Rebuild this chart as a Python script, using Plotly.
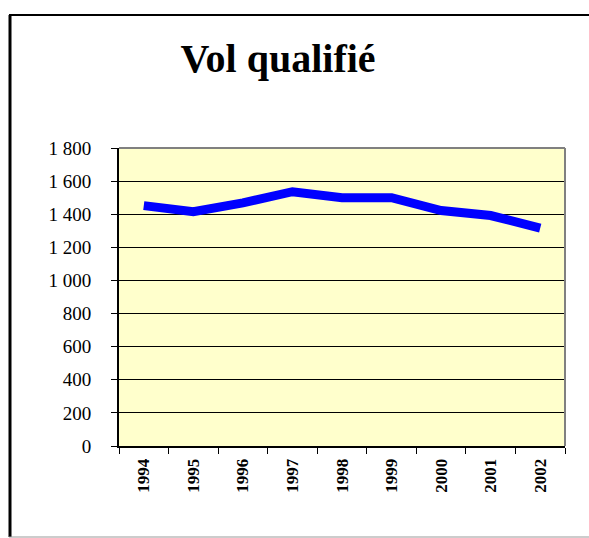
import plotly.graph_objects as go

years = ["1994", "1995", "1996", "1997", "1998", "1999", "2000", "2001", "2002"]
values = [1452, 1415, 1468, 1536, 1500, 1500, 1422, 1392, 1316]
ytick_vals = [0, 200, 400, 600, 800, 1000, 1200, 1400, 1600, 1800]
ytick_text = ["0", "200", "400", "600", "800", "1 000", "1 200", "1 400", "1 600", "1 800"]
title_text = "Vol qualifié"

W, H = 589, 538
L, R, T, B = 119, 565, 148, 446

fig = go.Figure()
fig.add_trace(go.Scatter(
    x=years, y=values, mode="lines",
    line=dict(color="#0000FF", width=9),
    hoverinfo="skip", showlegend=False,
))

def px(x):
    return (x - L) / (R - L)

def py(y):
    return (B - y) / (B - T)

shapes = [
    # outer frame
    dict(type="line", xref="paper", yref="paper", x0=px(10), x1=px(10), y0=py(15), y1=py(537),
         line=dict(color="black", width=3)),
    dict(type="line", xref="paper", yref="paper", x0=px(9), x1=px(600), y0=py(15), y1=py(15),
         line=dict(color="black", width=2)),
    dict(type="line", xref="paper", yref="paper", x0=px(9), x1=px(600), y0=py(537), y1=py(537),
         line=dict(color="#999999", width=1)),
    # plot area top/right gray border
    dict(type="line", xref="paper", yref="paper", x0=0, x1=1, y0=1, y1=1,
         line=dict(color="#808080", width=2)),
    dict(type="line", xref="paper", yref="paper", x0=1, x1=1, y0=0, y1=1,
         line=dict(color="#808080", width=2)),
]

fig.update_layout(
    width=W, height=H,
    margin=dict(l=L, r=W - R, t=T, b=H - B, pad=0),
    paper_bgcolor="white",
    plot_bgcolor="#FFFFCC",
    title=dict(text="<b>" + title_text + "</b>", x=278 / W, xref="container", xanchor="center",
               y=1 - 58 / H, yref="container", yanchor="middle",
               font=dict(family="Liberation Serif", size=40, color="black")),
    shapes=shapes,
    xaxis=dict(
        type="category", tickson="boundaries", ticks="outside", ticklen=6, tickcolor="black",
        showline=True, linecolor="black", linewidth=2, showgrid=False,
        tickangle=-90, tickfont=dict(family="Liberation Serif", size=17, color="black", weight="bold"),
        range=[-0.5, 8.5], fixedrange=True, zeroline=False,
        ticklabelstandoff=4,
    ),
    yaxis=dict(
        range=[0, 1800], tickvals=ytick_vals, ticktext=ytick_text,
        ticks="outside", ticklen=6, tickcolor="black",
        showline=True, linecolor="black", linewidth=2,
        showgrid=True, gridcolor="black", gridwidth=1, zeroline=False,
        tickfont=dict(family="Liberation Serif", size=19, color="black"),
        ticklabelstandoff=16, fixedrange=True,
    ),
)

fig.write_html("out.html", config={"displayModeBar": False, "staticPlot": True},
               post_script="document.body.style.margin='0';document.body.style.padding='0';")
